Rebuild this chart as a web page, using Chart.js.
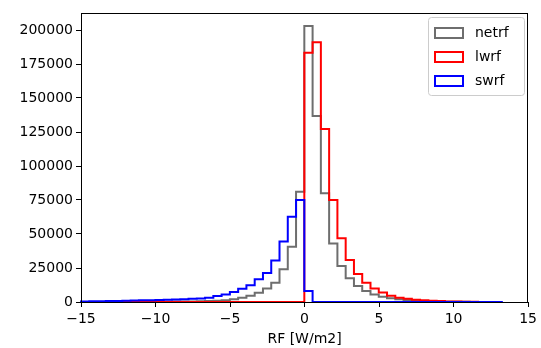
<!DOCTYPE html>
<html>
<head>
<meta charset="utf-8">
<script src="https://cdn.jsdelivr.net/npm/chart.js@4/dist/chart.umd.min.js"></script>
<style>
  html, body { margin: 0; padding: 0; background: #fff; }
  #wrap { width: 541px; height: 348px; }
</style>
</head>
<body>
<div id="wrap"><canvas id="chart" width="541" height="348"></canvas></div>
<script>
// histogram bins: 50 equal bins from -15 to 12.75
const binLo = -15;
const binHi = 12.75;
const binCount = 50;

const seriesLabels = ['netrf', 'lwrf', 'swrf'];
const seriesColors = ['#6e6e6e', '#ff0000', '#0000ff'];

// counts per bin
const netrf = [
  15, 20, 30, 40, 50, 60, 80, 100, 130, 170, 220, 280, 350, 450, 550, 700, 900,
  1200, 2000, 3200, 4600, 6800, 10000, 14200, 24000, 40700, 81100,
  203000, 136800, 79900, 43100, 26500, 17400, 11800, 8100, 5600, 3900, 2700,
  2000, 1400, 1000, 700, 500, 350, 250, 180, 120, 80, 50, 30
];
const lwrf = [
  0, 0, 0, 0, 0, 0, 0, 0, 0, 0, 0, 0, 0, 0, 0, 0, 0, 0, 0, 0, 0, 0, 0, 0, 0, 0, 0,
  183300, 191000, 127200, 75000, 46800, 30900, 20600, 14200, 10000, 6900, 4600, 3200,
  2300, 1700, 1200, 900, 650, 450, 300, 200, 130, 80, 40
];
const swrf = [
  400, 500, 600, 700, 800, 900, 1050, 1200, 1350, 1500, 1650, 1800, 2000,
  2300, 2600, 3200, 4400, 5600, 7400, 9800, 12300, 16700, 21400, 30600, 44500, 62700, 75000,
  8100,
  0, 0, 0, 0, 0, 0, 0, 0, 0, 0, 0, 0, 0, 0, 0, 0, 0, 0, 0, 0, 0, 0, 0, 0
];

const xTicks = [-15, -10, -5, 0, 5, 10, 15];
const yTicks = [0, 25000, 50000, 75000, 100000, 125000, 150000, 175000, 200000];

const FONT = 'DejaVu Sans';

// turn counts into a step outline like matplotlib histtype='step'
function stepPoints(counts) {
  const w = (binHi - binLo) / binCount;
  const pts = [{ x: binLo, y: 0 }];
  counts.forEach((c, i) => pts.push({ x: binLo + i * w, y: c }));
  pts.push({ x: binHi, y: counts[counts.length - 1] });
  pts.push({ x: binHi, y: 0 });
  return pts;
}

const allSeries = [netrf, lwrf, swrf];

const datasets = allSeries.map((s, i) => ({
  label: seriesLabels[i],
  data: stepPoints(s),
  borderColor: seriesColors[i],
  backgroundColor: 'rgba(0,0,0,0)',
  borderWidth: 2,
  stepped: 'before',
  pointRadius: 0,
  fill: false,
  order: 2 - i,
  clip: 4
}));

// box around the plot and a matplotlib-like legend
const framePlugin = {
  id: 'frame',
  afterDraw(chart) {
    const { ctx, chartArea: a } = chart;
    ctx.save();
    ctx.strokeStyle = '#000';
    ctx.lineWidth = 1;
    ctx.strokeRect(Math.round(a.left) + 0.5, Math.round(a.top) + 0.5,
      Math.round(a.right - a.left) - 1, Math.round(a.bottom - a.top));

    // legend
    const lx = 428, ly = 17, lw = 96, lh = 78;
    ctx.fillStyle = 'rgba(255,255,255,0.8)';
    ctx.strokeStyle = '#cccccc';
    ctx.beginPath();
    ctx.roundRect(lx + 0.5, ly + 0.5, lw, lh, 3);
    ctx.fill();
    ctx.stroke();
    ctx.font = '14px "' + FONT + '"';
    ctx.textBaseline = 'middle';
    ctx.fillStyle = '#000';
    chart.data.datasets.forEach((ds, i) => {
      const cy = ly + 16 + i * 24;
      ctx.strokeStyle = ds.borderColor;
      ctx.lineWidth = 2;
      ctx.strokeRect(435, cy - 5, 28, 10);
      ctx.fillText(ds.label, 475, cy);
    });
    ctx.restore();
  }
};

new Chart(document.getElementById('chart'), {
  type: 'line',
  data: { datasets },
  options: {
    responsive: false,
    animation: false,
    layout: { padding: { top: 13, right: 10, left: 0, bottom: 0 } },
    plugins: { legend: { display: false }, tooltip: { enabled: false } },
    scales: {
      x: {
        type: 'linear',
        min: -15,
        max: 15,
        afterBuildTicks: (sc) => { sc.ticks = xTicks.map(v => ({ value: v })); },
        afterFit: (sc) => { sc.height = 46; },
        grid: { drawOnChartArea: false, tickLength: 5, color: '#000' },
        border: { color: '#000', width: 1 },
        ticks: {
          color: '#000',
          padding: 4,
          maxRotation: 0,
          font: { family: FONT, size: 14 },
          callback: (v) => (v < 0 ? '\u2212' + Math.abs(v) : String(v))
        },
        title: {
          display: true,
          text: 'RF [W/m2]',
          color: '#000',
          font: { family: FONT, size: 14 },
          padding: { top: 0, bottom: 0 }
        }
      },
      y: {
        type: 'linear',
        min: 0,
        max: 212500,
        afterBuildTicks: (sc) => { sc.ticks = yTicks.map(v => ({ value: v })); },
        afterFit: (sc) => { sc.width = 81; },
        grid: { drawOnChartArea: false, tickLength: 5, color: '#000' },
        border: { color: '#000', width: 1 },
        ticks: {
          color: '#000',
          padding: 3,
          font: { family: FONT, size: 14 },
          callback: (v) => String(v)
        }
      }
    }
  },
  plugins: [framePlugin]
});
</script>
</body>
</html>
